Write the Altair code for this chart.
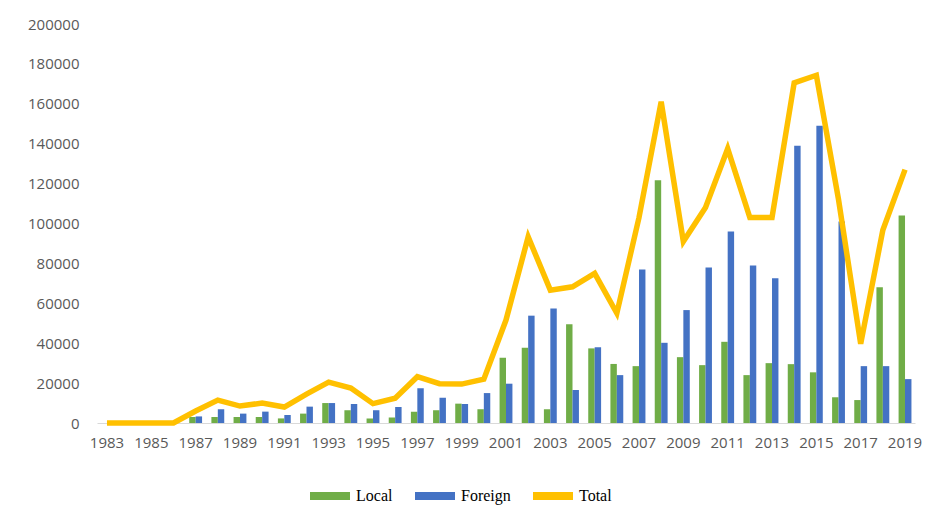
import altair as alt
import pandas as pd

years = list(range(1983, 2020))
local = [0, 0, 0, 0, 3000, 3000, 3000, 3000, 2300, 4700, 10000, 6400, 2300, 2700,
         5700, 6400, 9700, 6900, 32700, 37700, 6900, 49500, 37400, 29600, 28500,
         121700, 33000, 29000, 40700, 24000, 30000, 29500, 25400, 12900, 11500,
         68000, 104000]
foreign = [0, 0, 0, 0, 3300, 6900, 4700, 5700, 4000, 8200, 10000, 9500, 6400, 8000,
           17400, 12700, 9500, 15000, 19700, 53800, 57400, 16500, 38000, 24000, 77000,
           40200, 56600, 78000, 96000, 78900, 72600, 139000, 149000, 101000, 28500,
           28500, 22000]
total = [0, 0, 0, 0, 6000, 11500, 8500, 10000, 8000, 14500, 20500, 17500, 9700, 12400,
         23200, 19700, 19500, 22000, 51600, 93300, 66600, 68300, 75000, 55000, 103000,
         161000, 91000, 108000, 137500, 103000, 103000, 170500, 174300, 112000, 39700,
         96700, 127000]
series_names = ["Local", "Foreign", "Total"]
series_colors = ["#70AD47", "#4472C4", "#FFC000"]
x_labels = [y for y in years if y % 2 == 1]
y_ticks = list(range(0, 200001, 20000))

bars_df = pd.DataFrame(
    [{"year": y, "series": "Local", "value": v} for y, v in zip(years, local)]
    + [{"year": y, "series": "Foreign", "value": v} for y, v in zip(years, foreign)]
)
line_df = pd.DataFrame({"year": years, "value": total})

xscale = alt.Scale(paddingInner=0.42, paddingOuter=0.16)
yscale = alt.Scale(domain=[0, 200000])

xaxis = alt.Axis(values=x_labels, labelAngle=0, ticks=False, domainColor="#D9D9D9",
                 labelFont="Open Sans", labelFontSize=15, labelColor="#595959",
                 labelPadding=12, title=None, grid=False)
yaxis = alt.Axis(values=y_ticks, format="d", ticks=False, domain=False, grid=False,
                 labelFont="Open Sans", labelFontSize=15, labelColor="#595959",
                 labelPadding=18, title=None)

bars = alt.Chart(bars_df).mark_bar().encode(
    x=alt.X("year:O", scale=xscale, axis=xaxis),
    xOffset=alt.XOffset("series:N", sort=["Local", "Foreign"],
                        scale=alt.Scale(paddingInner=0, paddingOuter=0)),
    y=alt.Y("value:Q", scale=yscale, axis=yaxis),
    color=alt.Color("series:N",
                    scale=alt.Scale(domain=series_names, range=series_colors),
                    legend=alt.Legend(
                        title=None, orient="none", direction="horizontal",
                        legendX=213, legendY=452,
                        symbolType="M-1,-0.2L1,-0.2L1,0.2L-1,0.2Z",
                        symbolSize=1600, symbolStrokeWidth=0,
                        labelFont="Liberation Serif", labelFontSize=16,
                        labelColor="#000000", labelOffset=6, columnPadding=22,
                        symbolOpacity=1)),
)

line = alt.Chart(line_df).mark_line(strokeWidth=5.5, color="#FFC000").encode(
    x=alt.X("year:O", scale=xscale, axis=xaxis),
    y=alt.Y("value:Q", scale=yscale, axis=yaxis),
)

chart = alt.layer(bars, line).properties(
    width=818, height=399,
    padding={"left": 89, "top": 16, "right": 10, "bottom": 92},
    autosize=alt.AutoSizeParams(type="none"),
).configure_view(stroke=None)

chart.save("out.html", embed_options={"renderer": "svg", "actions": False})
